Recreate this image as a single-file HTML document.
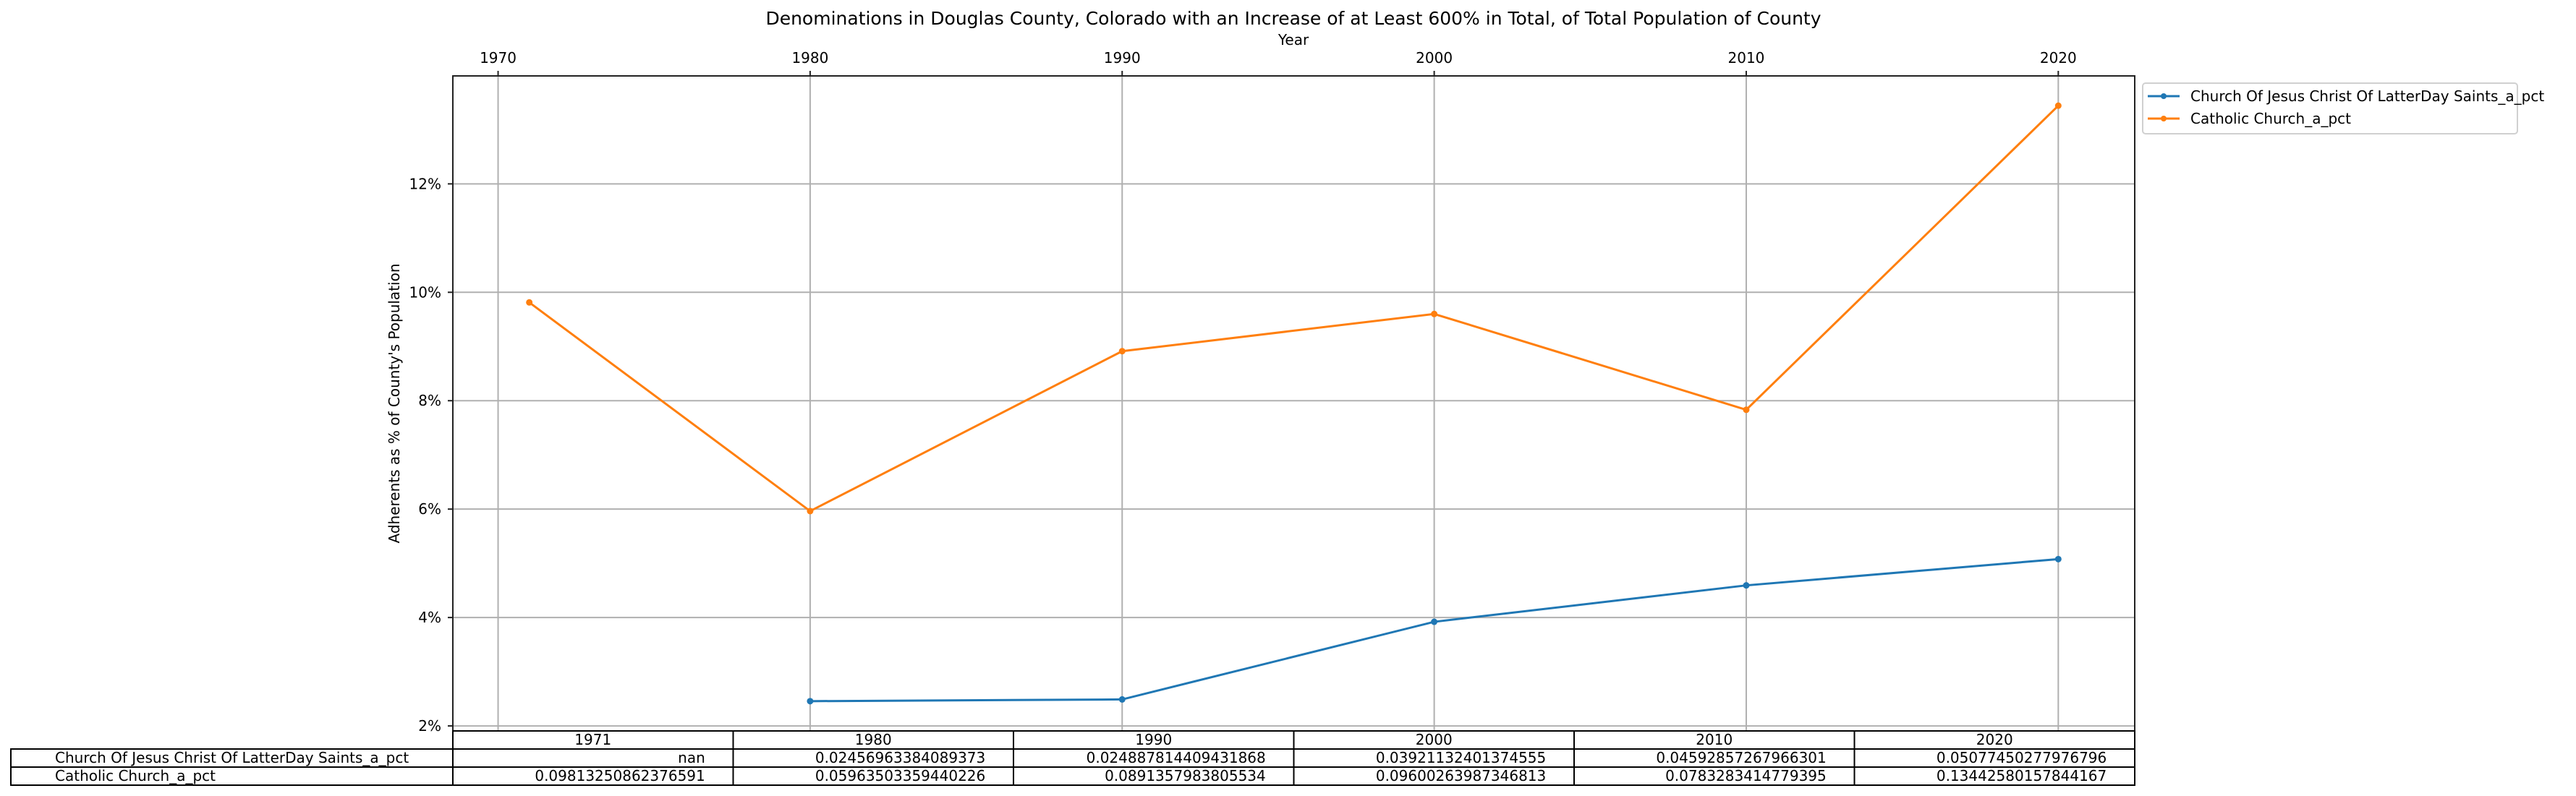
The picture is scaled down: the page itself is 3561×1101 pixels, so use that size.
<!DOCTYPE html>
<html><head><meta charset="utf-8"><style>
html,body{margin:0;padding:0;background:#fff;}
svg{display:block;font-family:"DejaVu Sans","Liberation Sans",sans-serif;}
</style></head><body>
<svg id="chart" width="3561" height="1101" xmlns="http://www.w3.org/2000/svg">
<text x="1788" y="34" font-size="25" text-anchor="middle">Denominations in Douglas County, Colorado with an Increase of at Least 600% in Total, of Total Population of County</text>
<text x="1788" y="62" font-size="20" text-anchor="middle">Year</text>
<text transform="translate(552,558) rotate(-90)" font-size="20" text-anchor="middle">Adherents as % of County's Population</text>
<g id="grid"></g>
<g id="series"></g>
<rect x="626" y="105" width="2325" height="906" fill="none" stroke="#222" stroke-width="2"/>
<g id="ticks"></g>
<g id="legend">
<rect x="2962" y="115" width="518" height="70" rx="4" fill="#fff" stroke="#d0d0d0" stroke-width="2"/>
<line x1="2969" y1="133" x2="3013" y2="133" stroke="#1f77b4" stroke-width="3"/><circle cx="2991" cy="133" r="4" fill="#1f77b4"/>
<text x="3028" y="140" font-size="20">Church Of Jesus Christ Of LatterDay Saints_a_pct</text>
<line x1="2969" y1="164" x2="3013" y2="164" stroke="#ff7f0e" stroke-width="3"/><circle cx="2991" cy="164" r="4" fill="#ff7f0e"/>
<text x="3028" y="171" font-size="20">Catholic Church_a_pct</text>
</g>
<g id="table"></g>
</svg>
<script>
const years = [1971, 1980, 1990, 2000, 2010, 2020];
const ldsValues = [null, 0.02456963384089373, 0.024887814409431868, 0.03921132401374555, 0.04592857267966301, 0.05077450277976796];
const catholicValues = [0.09813250862376591, 0.05963503359440226, 0.0891357983805534, 0.09600263987346813, 0.0783283414779395, 0.13442580157844167];
const ldsText = ["nan","0.02456963384089373","0.024887814409431868","0.03921132401374555","0.04592857267966301","0.05077450277976796"];
const catholicText = ["0.09813250862376591","0.05963503359440226","0.0891357983805534","0.09600263987346813","0.0783283414779395","0.13442580157844167"];
const xTicks = [1970, 1980, 1990, 2000, 2010, 2020];
const yTicks = [0.02, 0.04, 0.06, 0.08, 0.10, 0.12];
const seriesNames = ["Church Of Jesus Christ Of LatterDay Saints_a_pct", "Catholic Church_a_pct"];

const NS = "http://www.w3.org/2000/svg";
const L = 626, R = 2951, T = 105, B = 1011;
const allV = ldsValues.concat(catholicValues).filter(v => v !== null);
const vmin = Math.min(...allV), vmax = Math.max(...allV), vpad = (vmax - vmin) * 0.05;
const y0 = vmin - vpad, y1 = vmax + vpad;
const xmin = Math.min(...years), xmax = Math.max(...years), xpad = (xmax - xmin) * 0.05;
const x0 = xmin - xpad, x1 = xmax + xpad;
function xs(v){ return L + (v - x0) / (x1 - x0) * (R - L); }
function ys(v){ return B - (v - y0) / (y1 - y0) * (B - T); }
function mk(tag, attrs, parent){ const e = document.createElementNS(NS, tag); for (const k in attrs) e.setAttribute(k, attrs[k]); parent.appendChild(e); return e; }

const grid = document.getElementById('grid'), ticks = document.getElementById('ticks');
xTicks.forEach(t => {
  const x = xs(t);
  const g = mk('line', {x1:x, y1:T, x2:x, y2:B, stroke:'#b0b0b0', 'stroke-width':2}, grid);
  
  
  mk('line', {x1:x, y1:T-7, x2:x, y2:T, stroke:'#222', 'stroke-width':2}, ticks);
  const lb = mk('text', {x:x, y:87, 'font-size':20, 'text-anchor':'middle'}, ticks);
  lb.textContent = t;
  
  
});
yTicks.forEach(t => {
  const y = ys(t);
  const g = mk('line', {x1:L, y1:y, x2:R, y2:y, stroke:'#b0b0b0', 'stroke-width':2}, grid);
  
  
  mk('line', {x1:L-7, y1:y, x2:L, y2:y, stroke:'#222', 'stroke-width':2}, ticks);
  const lb = mk('text', {x:610, y:y+7, 'font-size':20, 'text-anchor':'end'}, ticks);
  lb.textContent = Math.round(t*100) + '%';
  
  
});

const series = document.getElementById('series');
[[ldsValues,'#1f77b4','lds'],[catholicValues,'#ff7f0e','catholic']].forEach(([vals,col,nm]) => {
  const pts = [];
  vals.forEach((v,i) => { if (v !== null) pts.push([xs(years[i]), ys(v)]); });
  const pl = mk('polyline', {points: pts.map(p => p.join(',')).join(' '), fill:'none', stroke:col, 'stroke-width':3}, series);
  
  
  pts.forEach(p => {
    const c = mk('circle', {cx:p[0], cy:p[1], r:4.5, fill:col}, series);
    
    
  });
});

const tb = document.getElementById('table');
const colW = (R - L) / years.length;
const rowTop = [1011, 1036, 1061], rowH = 25;
years.forEach((yr,i) => {
  const cx = L + i*colW;
  mk('rect', {x:cx, y:rowTop[0], width:colW, height:rowH, fill:'#fff', stroke:'#000', 'stroke-width':2}, tb);
  const h = mk('text', {x:cx+colW/2, y:rowTop[0]+19, 'font-size':20, 'text-anchor':'middle'}, tb);
  h.textContent = yr;
  
  
});
[ldsText, catholicText].forEach((row,r) => {
  const ty = rowTop[r+1];
  mk('rect', {x:15, y:ty, width:L-15, height:rowH, fill:'#fff', stroke:'#000', 'stroke-width':2}, tb);
  const rl = mk('text', {x:76, y:ty+19, 'font-size':20}, tb);
  rl.textContent = seriesNames[r];
  
  
  row.forEach((s,i) => {
    const cx = L + i*colW;
    mk('rect', {x:cx, y:ty, width:colW, height:rowH, fill:'none', stroke:'#000', 'stroke-width':2}, tb);
    const t = mk('text', {x:cx+colW-colW*0.1, y:ty+19, 'font-size':20, 'text-anchor':'end'}, tb);
    t.textContent = s;
    
    
  });
});
</script>
</body></html>
